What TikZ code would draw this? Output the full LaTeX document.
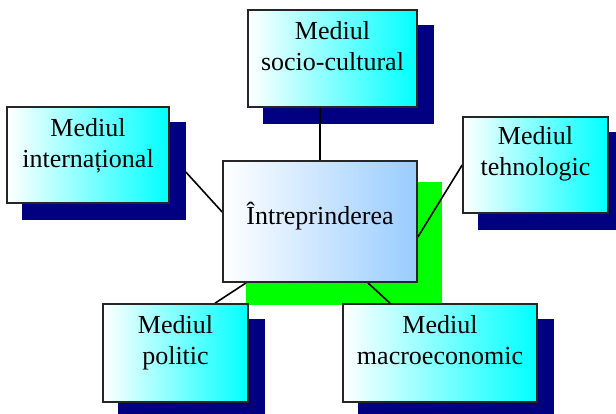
\documentclass[tikz,border=0pt]{standalone}
\usepackage{fontspec}
\setmainfont{Liberation Serif}
\definecolor{navyblue}{RGB}{0,0,128}
\definecolor{paleblue}{RGB}{153,204,255}
\definecolor{brightgreen}{RGB}{0,255,0}
\pgfdeclarelayer{shadows}
\pgfdeclarelayer{links}
\pgfsetlayers{shadows,links,main}
\begin{document}
\begin{tikzpicture}[x=1pt,y=-1pt,
  envbox/.style={draw=black!85, line width=1.6pt, inner sep=0pt,
    left color=white, right color=cyan},
  corebox/.style={draw=black!85, line width=1.6pt, inner sep=0pt,
    left color=white, right color=paleblue},
  boxtext/.style={font=\fontsize{26}{31}\selectfont, align=center,
    inner sep=0pt},
  link/.style={draw=black, line width=1.6pt},
]
\path[use as bounding box] (0,0) rectangle (616,413);

% central box
\node[corebox, minimum width=194pt, minimum height=121pt] (cen) at (320,221.5) {};
\node[boxtext, anchor=base] (centext) at ([yshift=-2.5pt]cen.center) {Întreprinderea};

% surrounding environment boxes
\node[envbox, minimum width=169pt, minimum height=97pt] (soc) at (332.5,58.5) {};
\node[envbox, minimum width=162pt, minimum height=96pt] (int) at (88,155) {};
\node[envbox, minimum width=145pt, minimum height=96pt] (teh) at (535.5,165) {};
\node[envbox, minimum width=145pt, minimum height=98pt] (pol) at (175.5,353) {};
\node[envbox, minimum width=194pt, minimum height=98pt] (mac) at (440,353) {};

\node[boxtext, anchor=north] (soctext) at ([yshift=-12.5pt]soc.north) {Mediul\\socio-cultural};
\node[boxtext, anchor=north] (inttext) at ([yshift=-12pt]int.north) {Mediul\\internațional};
\node[boxtext, anchor=north] (tehtext) at ([yshift=-10.5pt]teh.north) {Mediul\\tehnologic};
\node[boxtext, anchor=north] (poltext) at ([yshift=-12pt]pol.north) {Mediul\\politic};
\node[boxtext, anchor=north] (mactext) at ([yshift=-12pt]mac.north) {Mediul\\macroeconomic};

% offset shadows
\begin{pgfonlayer}{shadows}
  \fill[brightgreen] ([shift={(24pt,-22pt)}]cen.south west) rectangle ([shift={(24pt,-22pt)}]cen.north east);
  \foreach \b in {soc,int,teh,pol,mac}
    \fill[navyblue] ([shift={(16pt,-16pt)}]\b.south west) rectangle ([shift={(16pt,-16pt)}]\b.north east);
\end{pgfonlayer}

% connectors
\begin{pgfonlayer}{links}
  \coordinate (intshadow) at ([shift={(16pt,-17pt)}]int.east);
  \draw[link] (cen.north) -- (cen.north |- soc.south);
  \draw[link] (intshadow) -- ([yshift=9.5pt]cen.west);
  \draw[link] (teh.west) -- ([yshift=-15.5pt]cen.east);
  \draw[link] ([xshift=24pt]cen.south west) -- ([xshift=39.5pt]pol.north);
  \draw[link] ([xshift=-50pt]cen.south east) -- ([xshift=-50pt]mac.north);
\end{pgfonlayer}
\end{tikzpicture}
\end{document}
